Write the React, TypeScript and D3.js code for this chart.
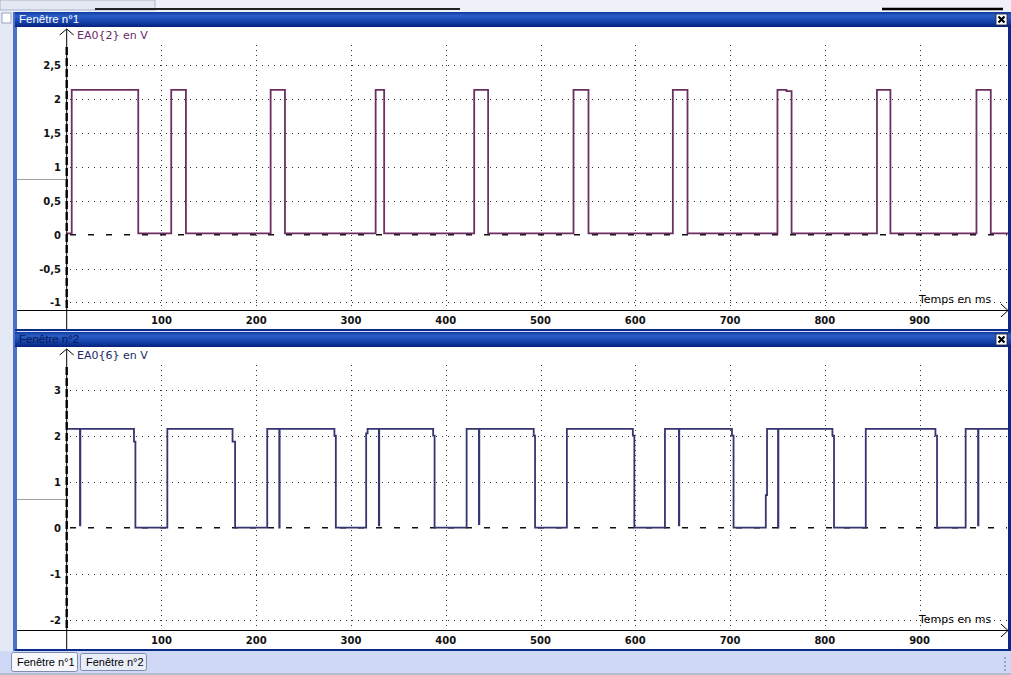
import React from 'react';
import * as d3 from 'd3';

// ---- Data ----
const xTicks = [100, 200, 300, 400, 500, 600, 700, 800, 900];
const xTickLabels = ['100', '200', '300', '400', '500', '600', '700', '800', '900'];

const y1Ticks = [-1, -0.5, 0, 0.5, 1, 1.5, 2, 2.5];
const y1TickLabels = ['-1', '-0,5', '0', '0,5', '1', '1,5', '2', '2,5'];
const y2Ticks = [-2, -1, 0, 1, 2, 3];
const y2TickLabels = ['-2', '-1', '0', '1', '2', '3'];

// Signal EA0{2} (step after) : time in ms, voltage in V
const sig1Time = [0, 5.3, 75.5, 110.3, 125.8, 215.2, 230.3, 326, 335, 430, 444.7, 534.8, 550.6, 639.6, 655.1, 750, 759.5, 764.9, 855, 869.2, 960, 975.1, 995];
const sig1Volt = [0.02, 2.14, 0.02, 2.14, 0.02, 2.14, 0.02, 2.14, 0.02, 2.14, 0.02, 2.14, 0.02, 2.14, 0.02, 2.14, 2.12, 0.02, 2.14, 0.02, 2.14, 0.02, 0.02];

// Signal EA0{6}
const sig2Time = [0, 14, 14.4, 71, 72.5, 106.2, 175, 177.7, 211.6, 224.3, 224.7, 282.5, 284, 316, 317.5, 329.4, 329.8, 386.7, 388.2, 422, 435, 435.4, 492.8, 494.2, 527.8, 597.4, 599, 631.3, 646, 646.4, 702, 703.7, 737.7, 739, 750.6, 751, 808, 809.7, 843.2, 916.7, 918.4, 948.6, 961.7, 962.1, 995];
const sig2Volt = [2.15, 0.05, 2.15, 1.87, 0.0, 2.15, 1.87, 0.0, 2.15, 0.0, 2.15, 2.0, 0.0, 2.05, 2.15, 0.05, 2.15, 2.0, 0.0, 2.15, 0.08, 2.15, 2.0, 0.0, 2.15, 2.0, 0.0, 2.15, 0.05, 2.15, 2.0, 0.0, 0.71, 2.15, 0.0, 2.15, 2.0, 0.0, 2.15, 2.0, 0.0, 2.15, 0.05, 2.15, 2.15];

const FONT = '"DejaVu Sans", Verdana, sans-serif';
const TFONT = '"Liberation Sans", Arial, sans-serif';

const x = d3.scaleLinear().domain([0, 900]).range([66.7, 919.6]);

type PanelProps = {
  off: number;
  title: string;
  titleColor: string;
  label: string;
  labelColor: string;
  yScale: d3.ScaleLinear<number, number>;
  ticks: number[];
  tickLabels: string[];
  times: number[];
  volts: number[];
  color: string;
  clipId: string;
};

function Panel(p: PanelProps) {
  const { off, yScale } = p;
  const pts: [number, number][] = p.times.map((t, i) => [t, p.volts[i]]);
  const line = d3
    .line<[number, number]>()
    .x((d) => x(d[0]))
    .y((d) => yScale(d[1]))
    .curve(d3.curveStepAfter);
  const axisX = x(0);
  const axisY = 310 + off;
  const winTop = 12 + off;
  const winBot = 329 + off;
  return (
    <g>
      {/* title bar */}
      <rect x={15} y={winTop} width={996} height={15} fill="url(#titleGrad)" />
      <text x={19} y={winTop + 11} fontFamily={TFONT} fontSize={11.5} fill={p.titleColor}>
        {p.title}
      </text>
      <rect x={996} y={winTop + 2} width={11} height={11} fill="#fff" stroke="#223" strokeWidth={0.8} />
      <path
        d={`M${998.5},${winTop + 4.5} L${1004.5},${winTop + 10.5} M${1004.5},${winTop + 4.5} L${998.5},${winTop + 10.5}`}
        stroke="#000"
        strokeWidth={2.2}
      />
      {/* plot area */}
      <rect x={17} y={winTop + 15} width={991} height={winBot - winTop - 15} fill="#fff" />
      <defs>
        <clipPath id={p.clipId}>
          <rect x={axisX} y={winTop + 15} width={1008 - axisX} height={winBot - winTop - 15} />
        </clipPath>
      </defs>
      {/* gray marker at left */}
      <line x1={17} x2={65} y1={179.5 + off} y2={179.5 + off} stroke="#a0a0a0" strokeWidth={1} />
      {/* horizontal grid */}
      {p.ticks
        .filter((t) => t !== 0)
        .map((t) => (
          <line
            key={'h' + t}
            x1={70}
            x2={1007}
            y1={Math.round(yScale(t)) + 0.5}
            y2={Math.round(yScale(t)) + 0.5}
            stroke="#333"
            strokeWidth={1}
            strokeDasharray="1,5"
          />
        ))}
      {/* vertical grid */}
      {xTicks.map((t) => (
        <line
          key={'v' + t}
          x1={Math.round(x(t)) + 0.5}
          x2={Math.round(x(t)) + 0.5}
          y1={45 + off}
          y2={axisY}
          stroke="#333"
          strokeWidth={1}
          strokeDasharray="1,4"
        />
      ))}
      {/* zero line */}
      <line x1={70} x2={1007} y1={yScale(0)} y2={yScale(0)} stroke="#111" strokeWidth={1.4} strokeDasharray="6,12" />
      {/* signal */}
      <path d={line(pts) || ''} fill="none" stroke={p.color} strokeWidth={1.8} clipPath={`url(#${p.clipId})`} />
      {/* x axis */}
      <line x1={17} x2={1008} y1={axisY + 0.5} y2={axisY + 0.5} stroke="#000" strokeWidth={1} />
      <path d={`M${1001},${axisY - 6} L${1008},${axisY + 0.5} L${1001},${axisY + 7}`} fill="none" stroke="#000" strokeWidth={1} />
      {xTicks.map((t, i) => (
        <text
          key={'xl' + t}
          x={x(t)}
          y={axisY + 13.5}
          textAnchor="middle"
          fontFamily={FONT}
          fontSize={10}
          fontWeight="bold"
          fill="#111"
        >
          {xTickLabels[i]}
        </text>
      ))}
      <text x={919} y={axisY - 7} fontFamily={FONT} fontSize={11} fill="#000">
        Temps en ms
      </text>
      {/* y axis */}
      <line x1={axisX} x2={axisX} y1={winTop + 17} y2={winBot} stroke="#000" strokeWidth={1} />
      <line x1={axisX} x2={axisX} y1={47 + off} y2={axisY} stroke="#000" strokeWidth={2.4} strokeDasharray="8,3" />
      <path
        d={`M${axisX - 7},${winTop + 23} L${axisX},${winTop + 17} L${axisX + 7},${winTop + 23}`}
        fill="none"
        stroke="#000"
        strokeWidth={1}
      />
      <text x={77} y={winTop + 27} fontFamily={FONT} fontSize={11} fill={p.labelColor}>
        {p.label}
      </text>
      {p.ticks.map((t, i) => (
        <text
          key={'yl' + t}
          x={61}
          y={yScale(t) + 4}
          textAnchor="end"
          fontFamily={FONT}
          fontSize={10}
          fontWeight="bold"
          fill="#111"
        >
          {p.tickLabels[i]}
        </text>
      ))}
      {/* window bottom border */}
      <rect x={15} y={winBot} width={996} height={2} fill="#0a2a8a" />
    </g>
  );
}

export default function App() {
  const y1 = d3.scaleLinear().domain([-1, 2.5]).range([302.4, 65.45]);
  const y2 = d3.scaleLinear().domain([-2, 3]).range([619.7, 389.7]);
  return (
    <svg
      width={1011}
      height={675}
      viewBox="0 0 1011 675"
      style={{ position: 'absolute', left: 0, top: 0, display: 'block' }}
    >
      <defs>
        <linearGradient id="titleGrad" x1="0" y1="0" x2="0" y2="1">
          <stop offset="0" stopColor="#0f3a9e" />
          <stop offset="0.25" stopColor="#2b5cc6" />
          <stop offset="0.6" stopColor="#1846b0" />
          <stop offset="1" stopColor="#07227e" />
        </linearGradient>
      </defs>
      {/* page background */}
      <rect x={0} y={0} width={1011} height={675} fill="#d3dcf4" />
      {/* top strip */}
      <rect x={0} y={0} width={1011} height={12} fill="#eef1f8" />
      <rect x={0} y={0} width={155} height={10} fill="#e3e8f2" stroke="#9aa6c0" strokeWidth={0.8} />
      <line x1={95} x2={460} y1={9} y2={9} stroke="#222" strokeWidth={2} />
      <line x1={882} x2={1003} y1={9} y2={9} stroke="#000" strokeWidth={2.5} />
      {/* left strip */}
      <rect x={0} y={12} width={13} height={640} fill="#e4e9f6" />
      <rect x={2} y={13} width={9} height={10} fill="#fff" stroke="#8090b0" strokeWidth={0.8} />
      <rect x={13} y={12} width={4} height={640} fill="#4d6fcc" />
      <rect x={1008} y={12} width={3} height={640} fill="#0a2a8a" />
      <Panel
        off={0}
        title="Fenêtre n°1"
        titleColor="#ffffff"
        label="EA0{2} en V"
        labelColor="#6a2a6a"
        yScale={y1}
        ticks={y1Ticks}
        tickLabels={y1TickLabels}
        times={sig1Time}
        volts={sig1Volt}
        color="#6b2f62"
        clipId="clip1"
      />
      <Panel
        off={320}
        title="Fenêtre n°2"
        titleColor="#0a1a50"
        label="EA0{6} en V"
        labelColor="#1a2a6a"
        yScale={y2}
        ticks={y2Ticks}
        tickLabels={y2TickLabels}
        times={sig2Time}
        volts={sig2Volt}
        color="#35356f"
        clipId="clip2"
      />
      {/* tab bar */}
      <rect x={0} y={651} width={1011} height={24} fill="#cfd9f5" />
      <line x1={0} x2={1011} y1={674} y2={674} stroke="#9aa0b0" strokeWidth={1} />
      <rect x={11.5} y={652.5} width={66} height={19} rx={2} fill="#f6f8fd" stroke="#7f8db0" />
      <text x={17} y={666} fontFamily={TFONT} fontSize={11} fill="#000">
        Fenêtre n°1
      </text>
      <rect x={80.5} y={653.5} width={66} height={17} rx={2} fill="#e8edf8" stroke="#7f8db0" />
      <text x={86} y={666} fontFamily={TFONT} fontSize={11} fill="#000">
        Fenêtre n°2
      </text>
      {/* size grip */}
      {[0, 1, 2, 3].map((i) => (
        <rect key={'g' + i} x={1004} y={657 + i * 4} width={2} height={2} fill="#9aa4c0" />
      ))}
    </svg>
  );
}
